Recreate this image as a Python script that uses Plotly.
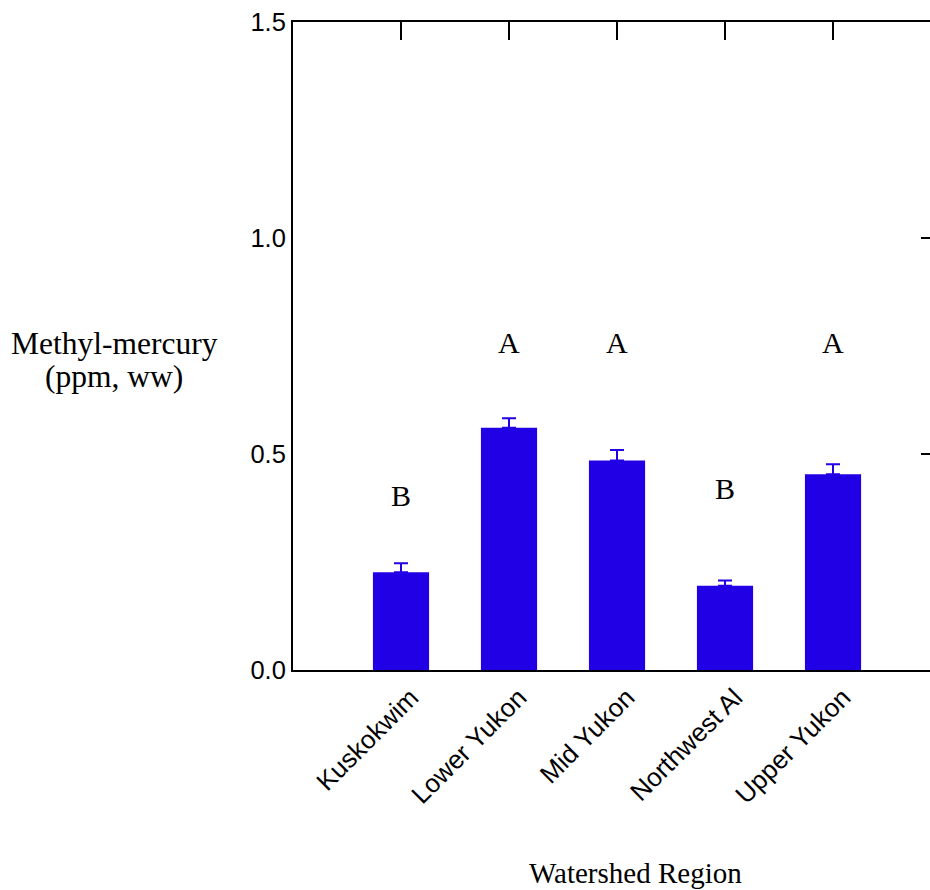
import plotly.graph_objects as go

categories = ["Kuskokwim", "Lower Yukon", "Mid Yukon", "Northwest Al", "Upper Yukon"]
mehg_mean = [0.226, 0.561, 0.485, 0.195, 0.453]
mehg_se = [0.021, 0.022, 0.024, 0.012, 0.023]
sig_letters = ["B", "A", "A", "B", "A"]
letter_y = [0.403, 0.759, 0.759, 0.419, 0.759]
y_ticks = [0.0, 0.5, 1.0, 1.5]
y_ticktext = ["0.0", "0.5", "1.0", "1.5"]
y_title_lines = ["Methyl-mercury", "(ppm, ww)"]
x_title = "Watershed Region"

BLUE = "rgb(34,0,230)"
SANS = "Liberation Sans, Arial, sans-serif"
SERIF = "Liberation Serif, Times New Roman, serif"

xpos = list(range(len(categories)))
xr = [-1, 4.898]

fig = go.Figure()
fig.add_trace(go.Bar(
    x=xpos, y=mehg_mean,
    marker=dict(color=BLUE, line=dict(width=0)),
    error_y=dict(type="data", array=mehg_se, arrayminus=[0] * len(mehg_se),
                 symmetric=False, color=BLUE, thickness=2, width=7),
    showlegend=False, hoverinfo="skip",
))
# invisible trace to activate the mirrored top/right axes
fig.add_trace(go.Scatter(
    x=xpos, y=mehg_mean, xaxis="x2", yaxis="y2", mode="markers",
    marker=dict(opacity=0), showlegend=False, hoverinfo="skip",
))

for xi, lt, ly in zip(xpos, sig_letters, letter_y):
    fig.add_annotation(x=xi, y=ly, text=lt, showarrow=False,
                       font=dict(family=SERIF, size=30, color="black"),
                       xanchor="center", yanchor="middle")

for line, py in zip(y_title_lines, [343, 376]):
    fig.add_annotation(xref="paper", yref="paper", x=(114 - 293) / 637, y=(670 - py) / 648,
                       text=line, showarrow=False,
                       font=dict(family=SERIF, size=31.5, color="black"),
                       xanchor="center", yanchor="middle")
fig.add_annotation(xref="paper", yref="paper", x=(635 - 293) / 637, y=(670 - 873) / 648,
                   text=x_title, showarrow=False,
                   font=dict(family=SERIF, size=29, color="black"),
                   xanchor="center", yanchor="middle")

fig.update_layout(
    width=930, height=890,
    margin=dict(l=293, r=0, t=22, b=220),
    paper_bgcolor="white", plot_bgcolor="white",
    bargap=0.48,
    xaxis=dict(
        range=xr, tickvals=xpos, ticktext=categories, tickangle=-45,
        showline=True, linecolor="black", linewidth=2, ticks="",
        showgrid=False, zeroline=False, ticklabelshift=10,
        tickfont=dict(family=SANS, size=26, color="black"),
    ),
    yaxis=dict(
        range=[0, 1.5], tickvals=y_ticks, ticktext=y_ticktext,
        showline=True, linecolor="black", linewidth=2, ticks="",
        showgrid=False, zeroline=False,
        tickfont=dict(family=SANS, size=25.5, color="black"),
    ),
    xaxis2=dict(
        overlaying="x", side="top", anchor="y2", range=xr, tickvals=xpos,
        showticklabels=False, ticks="inside", ticklen=18, tickwidth=2,
        tickcolor="black", showline=True, linecolor="black", linewidth=2,
        showgrid=False, zeroline=False,
    ),
    yaxis2=dict(
        overlaying="y", side="right", anchor="x2", range=[0, 1.5],
        tickvals=[0.5, 1.0], showticklabels=False, ticks="inside",
        ticklen=9, tickwidth=2, tickcolor="black", showline=False,
        showgrid=False, zeroline=False,
    ),
)

fig.write_html("out.html", config={"displayModeBar": False},
               post_script="document.body.style.margin='0';")
